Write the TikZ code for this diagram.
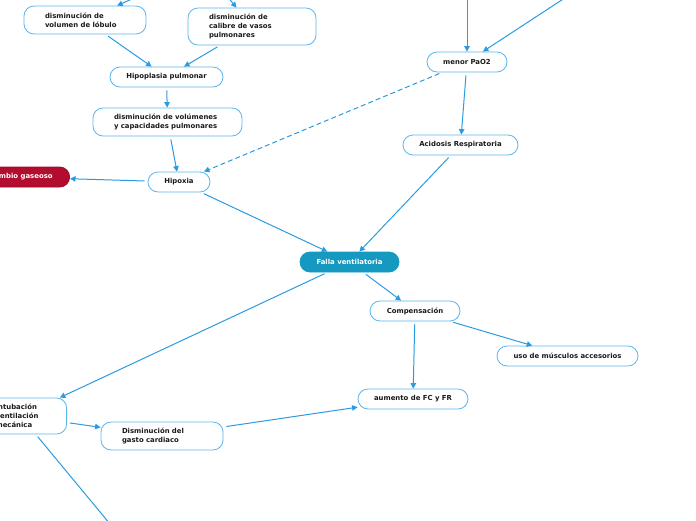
\documentclass[tikz,border=0pt]{standalone}
\usepackage{fontspec}
\setmainfont{DejaVu Sans}
\usepackage{tikz}
\usetikzlibrary{positioning, arrows.meta}
\definecolor{link}{HTML}{2A9BE0}
\definecolor{rim}{HTML}{5CB5EA}
\definecolor{hub}{HTML}{1699C1}
\definecolor{alarm}{HTML}{B20C2E}
\definecolor{ink}{HTML}{1A1A1A}
\tikzset{
  idea/.style    = {rectangle, rounded corners=10pt, draw=rim, line width=0.8pt,
                    fill=white, text=ink, minimum height=20pt, inner ysep=2pt,
                    align=center, font=\fontsize{6.9}{9}\selectfont\bfseries},
  note/.style    = {idea, align=left, inner xsep=21pt, minimum height=28pt},
  hubidea/.style = {idea, draw=hub, fill=hub, text=white},
  alert/.style   = {idea, draw=alarm!85!black, fill=alarm, text=white,
                    inner xsep=17pt},
  arr/.style     = {-{Triangle[length=5.5pt,width=5.5pt]}, line width=1pt,
                    draw=link, shorten <=3pt},
  darr/.style    = {arr, dash pattern=on 5pt off 3pt},
}

\begin{document}
\begin{tikzpicture}[x=1pt, y=-1pt]
  \useasboundingbox (0,0) rectangle (696,520);
  \clip (0,0) rectangle (696,520);

  % LEFT: causes of hypoxia
  \node[note, text width=80pt] (lobulo) at (85,20)
       {disminución de\\volumen de lóbulo};
  \node[note, text width=86pt, minimum height=37pt] (vasos) at (252,26.5)
       {disminución de\\calibre de vasos\\pulmonares};
  \node[idea, minimum width=113pt] (hipoplasia) at (166.5,77) {Hipoplasia pulmonar};
  \node[note, text width=107pt] (volumenes) at (167.5,122)
       {disminución de volúmenes\\y capacidades pulmonares};
  \node[idea, minimum width=62pt] (hipoxia) at (179,182) {Hipoxia};
  \node[alert, anchor=east] (gaseoso) at (70,177) {Intercambio gaseoso};

  % RIGHT: gas exchange
  \node[idea, minimum width=80pt] (pao) at (467,62) {menor PaO2};
  \node[idea, minimum width=115pt] (acidosis) at (460.5,145) {Acidosis Respiratoria};

  % CENTRE
  \node[hubidea, minimum width=99pt] (falla) at (349.5,262) {Falla ventilatoria};
  \node[idea, minimum width=90pt] (compensa) at (415,311) {Compensación};
  \node[idea, minimum width=141pt] (musculos) at (567.5,356) {uso de músculos accesorios};
  \node[idea, minimum width=110pt] (aumento) at (413,399) {aumento de FC y FR};

  % BOTTOM LEFT
  \node[note, text width=50pt, minimum height=36pt, anchor=east] (intubacion) at (67,416)
       {Intubación\\ventilación\\mecánica};
  \node[note, text width=80pt] (gasto) at (162,436)
       {Disminución del\\gasto cardiaco};

  % loose ends outside the frame
  \coordinate (srclobulo) at (152,-10);
  \coordinate (srcvasos) at (222,-10);
  \coordinate (srcpao) at (467,-10);
  \coordinate (srcpaob) at (577,-10);
  \coordinate (sinkintub) at (115,530);

  \draw[arr] (srclobulo) -- (lobulo);
  \draw[arr] (srcvasos) -- (vasos);
  \draw[arr] (lobulo) -- (hipoplasia);
  \draw[arr] (vasos) -- (hipoplasia);
  \draw[arr] (hipoplasia) -- (volumenes);
  \draw[arr] (volumenes) -- (hipoxia);
  \draw[arr] (hipoxia) -- (gaseoso);
  \draw[arr] (hipoxia) -- (falla);

  \draw[arr] (srcpao) -- (pao);
  \draw[arr] (srcpaob) -- (pao);
  \draw[darr] (pao) -- (hipoxia);
  \draw[arr] (pao) -- (acidosis);
  \draw[arr] (acidosis) -- (falla);

  \draw[arr] (falla) -- (compensa);
  \draw[arr] (falla) -- (intubacion);
  \draw[arr] (compensa) -- (musculos);
  \draw[arr] (compensa) -- (aumento);
  \draw[arr] (intubacion) -- (gasto);
  \draw[arr] (gasto) -- (aumento);
  \draw[arr] (intubacion) -- (sinkintub);

\end{tikzpicture}
\end{document}
